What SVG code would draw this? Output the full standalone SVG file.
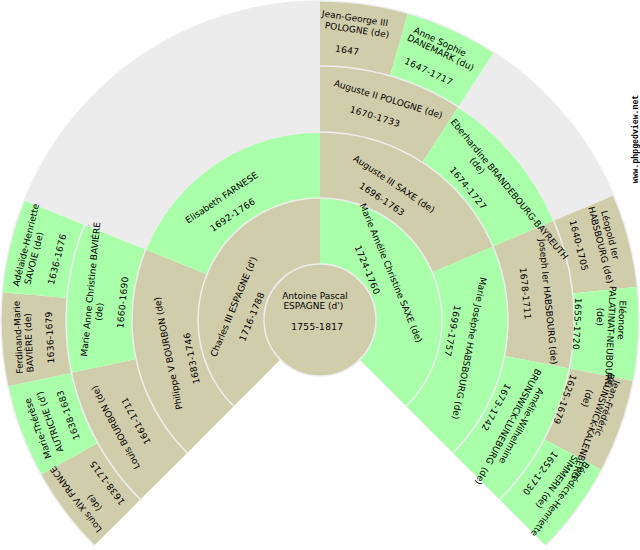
<svg xmlns="http://www.w3.org/2000/svg" width="640" height="550" viewBox="0 0 640 550">
<style>
text{font-family:"DejaVu Sans","Liberation Sans",sans-serif;font-size:9px;fill:#000;text-anchor:middle}
.d{letter-spacing:.35px}
.m{fill:#D0CDAA}.f{fill:#AAFFAA}.e{fill:#ECECEC}
.ring{fill:none;stroke:#EDEDED;stroke-width:1.5}
.site{font-family:"Liberation Mono",monospace;font-size:8.2px;font-weight:bold}
</style>
<rect width="640" height="550" fill="#fff"/>
<g id="empty">
<path class="e" d="M24.2 200.5A319 319 0 0 1 320 1V132A188 188 0 0 0 145.7 249.6Z"/>
<path class="e" d="M493.7 52.5A319 319 0 0 1 613.6 195.4L553.8 220.8A254 254 0 0 0 458.3 107Z"/>
</g>
<g id="n-louis14"><path class="m" d="M94.4 545.6A319 319 0 0 1 41 474.7L97.9 443.1A254 254 0 0 0 140.4 499.6Z"/></g>
<g id="n-marie-therese"><path class="f" d="M41 474.7A319 319 0 0 1 8 386.3L71.6 372.8A254 254 0 0 0 97.9 443.1Z"/></g>
<g id="n-ferdinand"><path class="m" d="M8 386.3A319 319 0 0 1 2.2 292.2L67 297.9A254 254 0 0 0 71.6 372.8Z"/></g>
<g id="n-adelaide"><path class="f" d="M2.2 292.2A319 319 0 0 1 24.2 200.5L84.5 224.9A254 254 0 0 0 67 297.9Z"/></g>
<g id="n-jean-george"><path class="m" d="M320 1A319 319 0 0 1 407.9 13.3L390 75.8A254 254 0 0 0 320 66Z"/></g>
<g id="n-anne-sophie"><path class="f" d="M407.9 13.3A319 319 0 0 1 493.7 52.5L458.3 107A254 254 0 0 0 390 75.8Z"/></g>
<g id="n-leopold"><path class="m" d="M613.6 195.4A319 319 0 0 1 637.2 286.7L572.6 293.5A254 254 0 0 0 553.8 220.8Z"/></g>
<g id="n-eleonore"><path class="f" d="M637.2 286.7A319 319 0 0 1 633.1 380.9L569.3 368.5A254 254 0 0 0 572.6 293.5Z"/></g>
<g id="n-jean-frederic"><path class="m" d="M633.1 380.9A319 319 0 0 1 601.6 469.8L544.3 439.3A254 254 0 0 0 569.3 368.5Z"/></g>
<g id="n-benedicte"><path class="f" d="M601.6 469.8A319 319 0 0 1 545.6 545.6L499.6 499.6A254 254 0 0 0 544.3 439.3Z"/></g>
<g id="n-louis-bourbon"><path class="m" d="M140.4 499.6A254 254 0 0 1 71.6 372.8L136.1 359.1A188 188 0 0 0 187.1 452.9Z"/></g>
<g id="n-marie-anne"><path class="f" d="M71.6 372.8A254 254 0 0 1 84.5 224.9L145.7 249.6A188 188 0 0 0 136.1 359.1Z"/></g>
<g id="n-auguste2"><path class="m" d="M320 66A254 254 0 0 1 458.3 107L422.4 162.3A188 188 0 0 0 320 132Z"/></g>
<g id="n-eberhardine"><path class="f" d="M458.3 107A254 254 0 0 1 553.8 220.8L493.1 246.5A188 188 0 0 0 422.4 162.3Z"/></g>
<g id="n-joseph"><path class="m" d="M553.8 220.8A254 254 0 0 1 569.3 368.5L504.5 355.9A188 188 0 0 0 493.1 246.5Z"/></g>
<g id="n-amelie"><path class="f" d="M569.3 368.5A254 254 0 0 1 499.6 499.6L452.9 452.9A188 188 0 0 0 504.5 355.9Z"/></g>
<g id="n-philippe"><path class="m" d="M187.1 452.9A188 188 0 0 1 145.7 249.6L206.9 274.3A122 122 0 0 0 233.7 406.3Z"/></g>
<g id="n-elisabeth"><path class="f" d="M145.7 249.6A188 188 0 0 1 320 132V198A122 122 0 0 0 206.9 274.3Z"/></g>
<g id="n-auguste3"><path class="m" d="M320 132A188 188 0 0 1 493.1 246.5L432.3 272.3A122 122 0 0 0 320 198Z"/></g>
<g id="n-marie-josephe"><path class="f" d="M493.1 246.5A188 188 0 0 1 452.9 452.9L406.3 406.3A122 122 0 0 0 432.3 272.3Z"/></g>
<g id="n-charles"><path class="m" d="M233.7 406.3A122 122 0 0 1 320 198V264A56 56 0 0 0 280.4 359.6Z"/></g>
<g id="n-marie-amelie"><path class="f" d="M320 198A122 122 0 0 1 406.3 406.3L359.6 359.6A56 56 0 0 0 320 264Z"/></g>
<g id="n-antoine"><circle class="m" cx="320" cy="320" r="56"/></g>
<g id="connectors">
<path class="ring" d="M94.4 545.6A319 319 0 1 1 545.6 545.6"/>
<path class="ring" d="M140.4 499.6A254 254 0 1 1 499.6 499.6"/>
<path class="ring" d="M187.1 452.9A188 188 0 1 1 452.9 452.9"/>
<path class="ring" d="M233.7 406.3A122 122 0 1 1 406.3 406.3"/>
<circle class="ring" cx="320" cy="320" r="56"/>
</g>
<g id="labels">
<text y="3" transform="translate(76 499.3) rotate(-126.56)">Louis XIV FRANCE</text>
<text y="3" transform="translate(94.3 502.7) rotate(-126.56)">(de)</text>
<text class="d" y="3" transform="translate(107.3 482.7) rotate(-126.56)">1638-1715</text>
<text y="3" transform="translate(38 428.3) rotate(-109.69)">Marie-Thérèse</text>
<text y="3" transform="translate(50 421.7) rotate(-109.69)">AUTRICHE (d')</text>
<text class="d" y="3" transform="translate(68.3 415) rotate(-109.69)">1638-1683</text>
<text y="3" transform="translate(18.3 337.3) rotate(-92.81)">Ferdinand-Marie</text>
<text y="3" transform="translate(29 342.7) rotate(-92.81)">BAVIÈRE (de)</text>
<text class="d" y="3" transform="translate(50 337.3) rotate(-92.81)">1636-1679</text>
<text y="3" transform="translate(26 245) rotate(-75.94)">Adélaïde-Henriette</text>
<text y="3" transform="translate(34 258.3) rotate(-75.94)">SAVOIE (de)</text>
<text class="d" y="3" transform="translate(57.3 259.3) rotate(-75.94)">1636-1676</text>
<text y="3" transform="translate(115.7 427.3) rotate(-118.13)">Louis BOURBON (de)</text>
<text class="d" y="3" transform="translate(136 420.7) rotate(-118.13)">1661-1711</text>
<text y="3" transform="translate(90.7 289.3) rotate(-84.38)">Marie Anne Christine BAVIÈRE</text>
<text y="3" transform="translate(99.3 311.7) rotate(-84.38)">(de)</text>
<text class="d" y="3" transform="translate(122.7 302.3) rotate(-84.38)">1660-1690</text>
<text y="3" transform="translate(168.3 353.3) rotate(-101.25)">Philippe V BOURBON (de)</text>
<text class="d" y="3" transform="translate(191.7 358.3) rotate(-101.25)">1683-1746</text>
<text y="3" transform="translate(221.7 197.7) rotate(-33.75)">Elisabeth FARNESE</text>
<text class="d" y="3" transform="translate(232.7 215) rotate(-33.75)">1692-1766</text>
<text y="3" transform="translate(394 184) rotate(33.75)">Auguste III SAXE (de)</text>
<text class="d" y="3" transform="translate(382 199.3) rotate(33.75)">1696-1763</text>
<text y="3" transform="translate(469.3 348.3) rotate(101.25)">Marie Josèphe HABSBOURG (de)</text>
<text class="d" y="3" transform="translate(452.3 331) rotate(101.25)">1699-1757</text>
<text y="3" transform="translate(388.3 99.3) rotate(16.88)">Auguste II POLOGNE (de)</text>
<text class="d" y="3" transform="translate(375 116.7) rotate(16.88)">1670-1733</text>
<text y="3" transform="translate(509.3 189.3) rotate(50.63)">Eberhardine BRANDEBOURG-BAYREUTH</text>
<text y="3" transform="translate(477.3 165.7) rotate(50.63)">(de)</text>
<text class="d" y="3" transform="translate(468 188.3) rotate(50.63)">1674-1727</text>
<text y="3" transform="translate(548 301.7) rotate(84.38)">Joseph Ier HABSBOURG (de)</text>
<text class="d" y="3" transform="translate(525.3 293.7) rotate(84.38)">1678-1711</text>
<text y="3" transform="translate(521.3 426) rotate(118.13)">Amélie-Wilhelmine</text>
<text y="3" transform="translate(513.3 416.7) rotate(118.13)">BRUNSWICK-LUNEBURG</text>
<text y="3" transform="translate(481.7 476) rotate(118.13)">(de)</text>
<text class="d" y="3" transform="translate(496 407.3) rotate(118.13)">1673-1742</text>
<text y="3" transform="translate(355 18.3) rotate(8.44)">Jean-George III</text>
<text y="3" transform="translate(357 30) rotate(8.44)">POLOGNE (de)</text>
<text class="d" y="3" transform="translate(347.3 50.3) rotate(8.44)">1647</text>
<text y="3" transform="translate(440 41.7) rotate(25.31)">Anne Sophie</text>
<text y="3" transform="translate(440.7 52.7) rotate(25.31)">DANEMARK (du)</text>
<text class="d" y="3" transform="translate(428.7 71.7) rotate(25.31)">1647-1717</text>
<text y="3" transform="translate(610 235) rotate(75.94)">Léopold Ier</text>
<text y="3" transform="translate(600.7 245) rotate(75.94)">HABSBOURG (de)</text>
<text class="d" y="3" transform="translate(578.7 245.7) rotate(75.94)">1640-1705</text>
<text y="3" transform="translate(621.7 320) rotate(92.81)">Eléonore</text>
<text y="3" transform="translate(610.3 336.7) rotate(92.81)">PALATINAT-NEUBOURG</text>
<text y="3" transform="translate(600 316.7) rotate(92.81)">(de)</text>
<text class="d" y="3" transform="translate(577 324) rotate(92.81)">1655-1720</text>
<text y="3" transform="translate(607.3 408.3) rotate(109.69)">Jean-Frédéric</text>
<text y="3" transform="translate(592.7 426) rotate(109.69)">BRUNSWICK-KALENBERG</text>
<text y="3" transform="translate(587.3 398.3) rotate(109.69)">(de)</text>
<text class="d" y="3" transform="translate(564.7 399.3) rotate(109.69)">1625-1679</text>
<text y="3" transform="translate(560 499) rotate(126.56)">Bénédicte-Henriette</text>
<text y="3" transform="translate(556.8 481.8) rotate(126.56)">SIMMERN (de)</text>
<text class="d" y="3" transform="translate(540 473.3) rotate(126.56)">1652-1730</text>
<text y="3" transform="translate(233.7 306.7) rotate(-67.5)">Charles III ESPAGNE (d')</text>
<text class="d" y="3" transform="translate(252 316.7) rotate(-67.5)">1716-1788</text>
<text y="3" transform="translate(391 273) rotate(67.5)">Marie Amélie Christine SAXE (de)</text>
<text class="d" y="3" transform="translate(367.3 270) rotate(67.5)">1724-1760</text>
<text x="315" y="298.7">Antoine Pascal</text>
<text x="313.3" y="308.7">ESPAGNE (d')</text>
<text class="d" x="317.3" y="330.3">1755-1817</text>
<text class="site" y="3" transform="translate(635 139) rotate(-90)">www.phpgedview.net</text>
</g>
</svg>
